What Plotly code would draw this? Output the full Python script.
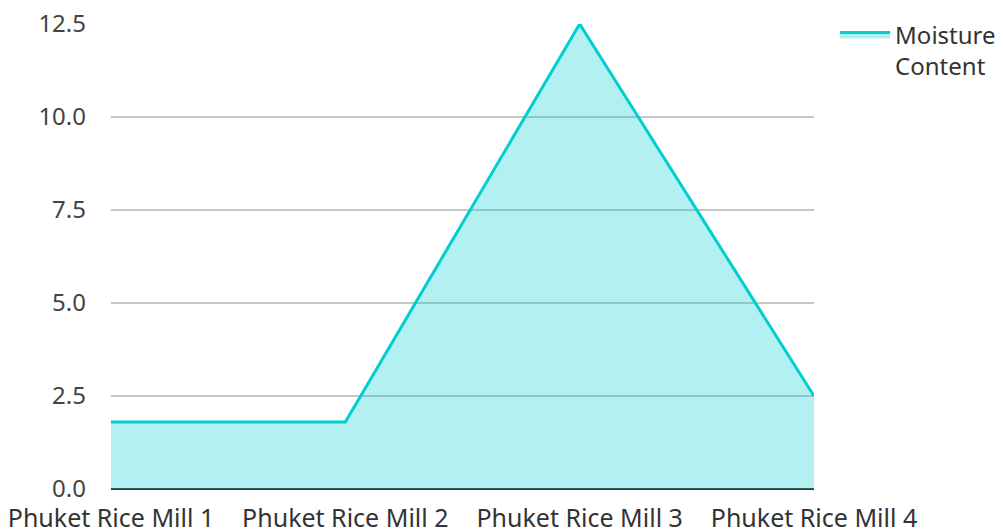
import plotly.graph_objects as go

categories = ["Phuket Rice Mill 1", "Phuket Rice Mill 2", "Phuket Rice Mill 3", "Phuket Rice Mill 4"]
moisture = [1.8, 1.8, 12.5, 2.5]
series_name = "Moisture<br>Content"
y_ticks = [0, 2.5, 5, 7.5, 10, 12.5]
y_tick_labels = ["0.0", "2.5", "5.0", "7.5", "10.0", "12.5"]

fig = go.Figure()
fig.add_trace(go.Scatter(
    x=categories, y=moisture, name=series_name, mode="lines",
    line=dict(color="#00CED1", width=3),
    fill="tozeroy", fillcolor="rgba(0,206,209,0.3)",
))
fig.update_layout(
    width=995, height=531,
    margin=dict(l=103, r=189, t=15.5, b=49.5, autoexpand=False),
    paper_bgcolor="white", plot_bgcolor="white",
    font=dict(family="Noto Sans", size=24, color="#333"),
    showlegend=True,
    legend=dict(x=1.03, y=1.025, xanchor="left", yanchor="top", valign="top",
                font=dict(size=24, color="#333"), itemwidth=50),
    xaxis=dict(range=[0, 3], showgrid=False, showline=False, ticks="",
               automargin=False, ticklabelstandoff=12,
               ticklabeloverflow="allow",
               tickfont=dict(size=25, color="#333")),
    yaxis=dict(range=[0, 12.5], tickvals=y_ticks, ticktext=y_tick_labels,
               showgrid=True, gridcolor="rgba(160,160,160,0.6)", gridwidth=1.5,
               zeroline=True, zerolinecolor="#333", zerolinewidth=2,
               showline=False, ticks="", ticklen=0, layer="above traces",
               automargin=False, ticklabelstandoff=24,
               ticklabeloverflow="allow",
               tickfont=dict(size=24, color="#444")),
)
fig.write_html("out.html")
